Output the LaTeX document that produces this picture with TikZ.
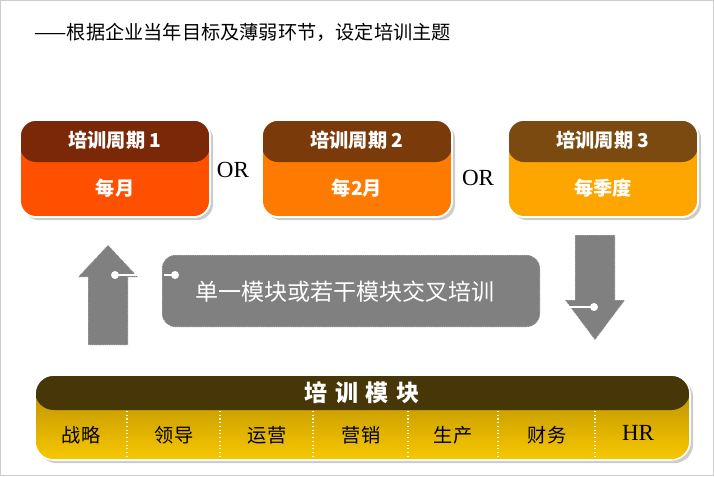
\documentclass[tikz,border=0pt]{standalone}
\usepackage{fontspec}
\setmainfont{Liberation Serif}
\newfontfamily\cjk{Noto Sans CJK SC}
\usetikzlibrary{positioning,shadows}
\definecolor{hdr1}{RGB}{122,40,8}
\definecolor{hdr2}{RGB}{122,58,10}
\definecolor{hdr3}{RGB}{122,74,16}
\definecolor{body1}{RGB}{255,80,0}
\definecolor{body2}{RGB}{255,122,0}
\definecolor{body3}{RGB}{255,165,0}
\definecolor{modhdr}{RGB}{70,54,8}
\definecolor{modtop}{RGB}{176,136,0}
\definecolor{modbot}{RGB}{248,200,0}
\definecolor{arrowgray}{RGB}{128,128,128}
\tikzset{
  cyclebox/.style={rounded corners=12pt, draw=white, line width=1.2pt, drop shadow={opacity=0.4}},
  headtext/.style={text=white, font=\cjk\Large\bfseries},
  bodytext/.style={text=white, font=\cjk\Large\bfseries},
  graypart/.style={fill=arrowgray, draw=white, densely dotted, line width=0.4pt},
  pin/.style={white, line width=0.8pt},
  modtext/.style={font=\cjk\Large}
}
\begin{document}
\begin{tikzpicture}[x=0.75pt, y=-0.75pt]
    \useasboundingbox (0,0) rectangle (714,476);
    \draw[gray!40] (0.5,0.5) rectangle (713.5,475.5);

    % title
    \node[anchor=west, font=\cjk\Large] (title) at (30,32) {——根据企业当年目标及薄弱环节，设定培训主题};

    % cycle boxes
    \foreach \i/\x/\lbl in {1/20/每月, 2/262/每2月, 3/508/每季度} {
        \fill[cyclebox, fill=body\i] (\x,120) rectangle ++(190,97);
        \begin{scope}
            \clip[rounded corners=12pt] (\x,120) rectangle ++(190,97);
            \fill[hdr\i, rounded corners=12pt] (\x,110) rectangle ++(190,52);
        \end{scope}
        \draw[white, line width=1.2pt, rounded corners=12pt] (\x,120) rectangle ++(190,97);
        \node[headtext] (head\i) at (\x+95,140) {培训周期 \i};
        \node[bodytext] (period\i) at (\x+95,188) {\lbl};
    }
    \node (or1) at (233,170) {\LARGE OR};
    \node (or2) at (478,178) {\LARGE OR};

    % up arrow
    \draw[graypart] (88,345) -- (88,277) -- (78,277) -- (108,245) -- (138,277)
        -- (128,277) -- (128,345) -- cycle;
    % down arrow
    \draw[graypart] (575,235) -- (615,235) -- (615,300) -- (625,300) -- (595,340)
        -- (565,300) -- (575,300) -- cycle;

    % mixing box
    \draw[graypart, rounded corners=10pt] (162,255) rectangle (540,327);
    \node[text=white, font=\cjk\LARGE] (mix) at (345,292) {单一模块或若干模块交叉培训};
    \coordinate (pinL) at (138,275);
    \coordinate (pinR) at (562,307);
    \draw[pin] (115,275) -- (pinL);
    \fill[white] (115,275) circle (3pt);
    \draw[pin] (175,275) -- (164,275);
    \fill[white] (175,275) circle (3pt);
    \draw[pin] (594,307) -- (pinR);
    \fill[white] (594,307) circle (3pt);

    % modules
    \fill[white, rounded corners=14pt, drop shadow={opacity=0.4}] (35,375) rectangle (690,460);
    \begin{scope}
        \clip[rounded corners=14pt] (35,375) rectangle (690,460);
        \shade[top color=modtop, bottom color=modbot] (35,375) rectangle (690,460);
        \fill[modhdr, rounded corners=14pt] (35,365) rectangle (690,410);
    \end{scope}
    \draw[white, line width=1.2pt, rounded corners=14pt] (35,375) rectangle (690,460);
    \node[text=white, font=\cjk\LARGE\bfseries] (modules) at (362,393) {培\,\,训\,\,模\,\,块};
    \foreach \x in {127,220,313,408,498,595}
        \draw[white, dotted, line width=0.8pt] (\x,411) -- (\x,460);
    \foreach \x/\m [count=\k] in {81/战略, 174/领导, 267/运营, 361/营销, 453/生产, 547/财务} {
        \node[modtext] (mod\k) at (\x,435) {\m};
    }
    \node[font=\LARGE] (mod7) at (638,433) {HR};
\end{tikzpicture}
\end{document}
